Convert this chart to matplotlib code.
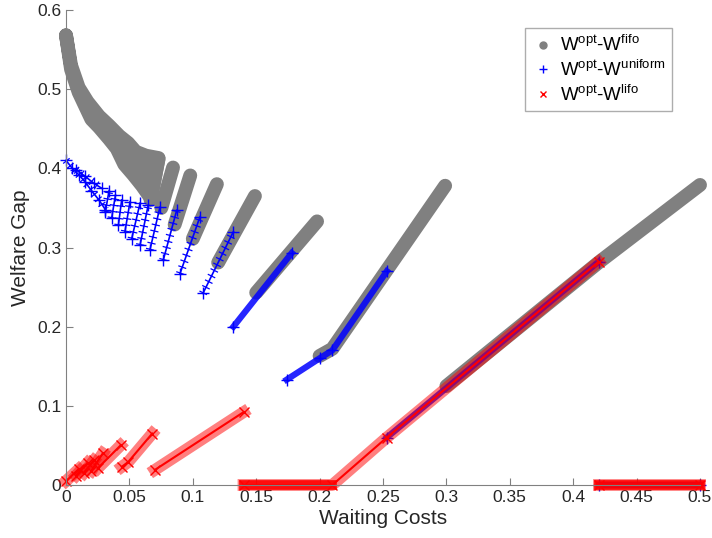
# -*- coding: utf-8 -*-
import numpy as np
import matplotlib
matplotlib.use("Agg")
from matplotlib import pyplot as plt
from matplotlib.lines import Line2D

plt.rcParams['font.family'] = ['Liberation Sans', 'DejaVu Sans']
plt.rcParams['mathtext.fontset'] = 'custom'
plt.rcParams['mathtext.rm'] = 'Liberation Sans'

# W^opt - W^fifo : bands, each a polyline of (x, y)
fifo_bands = [
    [(0.300, 0.125), (0.420, 0.281), (0.500, 0.379)],
    [(0.200, 0.163), (0.210, 0.172), (0.299, 0.378)],
    [(0.150, 0.243), (0.198, 0.333)],
    [(0.120, 0.281), (0.149, 0.365)],
    [(0.100, 0.311), (0.119, 0.380)],
    [(0.0857, 0.329), (0.098, 0.391)],
    [(0.0752, 0.350), (0.0844, 0.401)],
    [(0.0667, 0.360), (0.073, 0.412)],
]
# upper-left cluster of short fifo bands (outline)
fifo_top_x = [0.000, 0.004, 0.010, 0.017, 0.026, 0.034, 0.042, 0.049, 0.055, 0.063, 0.073]
fifo_top_y = [0.568, 0.530, 0.502, 0.484, 0.466, 0.454, 0.441, 0.432, 0.421, 0.416, 0.413]
fifo_bot_x = [0.000, 0.004, 0.010, 0.020, 0.026, 0.034, 0.040, 0.046, 0.053, 0.060, 0.067]
fifo_bot_y = [0.568, 0.525, 0.496, 0.462, 0.452, 0.437, 0.425, 0.405, 0.392, 0.378, 0.362]

# W^opt - W^uniform
uniform_bands = [
    [(0.420, 0.000), (0.500, 0.000)],
    [(0.253, 0.060), (0.420, 0.282)],
    [(0.174, 0.133), (0.200, 0.160), (0.210, 0.170), (0.253, 0.270)],
    [(0.132, 0.200), (0.178, 0.293)],
]
uniform_cols = [
    [(0.108, 0.242), (0.132, 0.320)],
    [(0.0899, 0.267), (0.1057, 0.339)],
    [(0.0767, 0.284), (0.0873, 0.347)],
    [(0.0662, 0.297), (0.0741, 0.351)],
    [(0.0584, 0.303), (0.0649, 0.354)],
    [(0.0518, 0.311), (0.0584, 0.356)],
    [(0.0465, 0.320), (0.0505, 0.358)],
    [(0.0413, 0.328), (0.0439, 0.360)],
    [(0.0360, 0.337), (0.0390, 0.366)],
    [(0.0310, 0.345), (0.0340, 0.372)],
    [(0.0000, 0.410), (0.005, 0.400), (0.010, 0.392), (0.015, 0.383),
     (0.020, 0.372), (0.026, 0.360), (0.031, 0.348)],
    [(0.008, 0.398), (0.015, 0.390), (0.022, 0.381), (0.028, 0.375)],
]

# W^opt - W^lifo
lifo_bands = [
    [(0.000, 0.005), (0.010, 0.020)],
    [(0.008, 0.012), (0.017, 0.028)],
    [(0.014, 0.015), (0.022, 0.031)],
    [(0.020, 0.018), (0.029, 0.040)],
    [(0.025, 0.021), (0.043, 0.050)],
    [(0.044, 0.023), (0.049, 0.029), (0.068, 0.065)],
    [(0.070, 0.019), (0.140, 0.092)],
    [(0.140, 0.000), (0.210, 0.000), (0.253, 0.060), (0.420, 0.282)],
    [(0.420, 0.000), (0.500, 0.000)],
]

xticks = [0, 0.05, 0.1, 0.15, 0.2, 0.25, 0.3, 0.35, 0.4, 0.45, 0.5]
xtick_labels = ['0', '0.05', '0.1', '0.15', '0.2', '0.25', '0.3', '0.35', '0.4', '0.45', '0.5']
yticks = [0, 0.1, 0.2, 0.3, 0.4, 0.5, 0.6]
ytick_labels = ['0', '0.1', '0.2', '0.3', '0.4', '0.5', '0.6']

gray = (0.5, 0.5, 0.5)
txt = (0.15, 0.15, 0.15)
GW = 10.0  # width of the fifo marker trail

fig = plt.figure(figsize=(7.12, 5.38), dpi=100)
ax = fig.add_axes([66 / 712, 53 / 538, 634 / 712, 475 / 538])

# fifo
poly_x = fifo_top_x + fifo_bot_x[::-1]
poly_y = fifo_top_y + fifo_bot_y[::-1]
ax.fill(poly_x, poly_y, color=gray, lw=0)
ax.plot(poly_x, poly_y, color=gray, lw=GW, solid_capstyle='round',
        solid_joinstyle='round', clip_on=False)
for band in fifo_bands:
    xs, ys = zip(*band)
    ax.plot(xs, ys, color=gray, lw=GW, solid_capstyle='round',
            solid_joinstyle='round', clip_on=False)

# uniform: dense bands
for band in uniform_bands:
    xs, ys = zip(*band)
    ax.plot(xs, ys, color='blue', lw=4.5, alpha=0.85, clip_on=False)
    ax.plot(xs, ys, ls='none', marker='+', ms=8, mew=1, color='blue', clip_on=False)
# uniform: sparse columns of crosses
for band in uniform_cols:
    xs, ys = zip(*band)
    ax.plot(xs, ys, color='blue', lw=6, ls=(0, (0.15, 0.6)), dash_capstyle='butt',
            clip_on=False)
    ax.plot(xs, ys, color='blue', lw=1.2, clip_on=False)
    ax.plot(xs, ys, ls='none', marker='+', ms=8, mew=1, color='blue', clip_on=False)

# lifo
for band in lifo_bands:
    xs, ys = zip(*band)
    ax.plot(xs, ys, color='red', lw=8.5, alpha=0.5, clip_on=False)
    ax.plot(xs, ys, color='red', lw=1.5, clip_on=False)
    ax.plot(xs, ys, ls='none', marker='x', ms=7, mew=1, color='red', clip_on=False)
for band in lifo_bands:
    xs, ys = zip(*band)
    if ys[0] == 0 and ys[1] == 0:
        ax.plot(xs[:2], ys[:2], color='red', lw=7, alpha=0.9, clip_on=False)

ax.set_xlim(0, 0.5)
ax.set_ylim(0, 0.6)
ax.set_xticks(xticks)
ax.set_xticklabels(xtick_labels)
ax.set_yticks(yticks)
ax.set_yticklabels(ytick_labels)
for s in ['top', 'right']:
    ax.spines[s].set_visible(False)
for s in ['left', 'bottom']:
    ax.spines[s].set_color((0.5, 0.5, 0.5))
ax.tick_params(direction='in', length=5, color=(0.5, 0.5, 0.5),
               labelsize=12.5, labelcolor=txt)
ax.set_xlabel('Waiting Costs', fontsize=15, color=txt, labelpad=3)
ax.set_ylabel('Welfare Gap', fontsize=15, color=txt, labelpad=5)

handles = [
    Line2D([], [], ls='none', marker='o', ms=5, color=gray),
    Line2D([], [], ls='none', marker='+', ms=6, color='blue'),
    Line2D([], [], ls='none', marker='x', ms=4, color='red'),
]
labels = [r'W$^{\mathrm{opt}}$-W$^{\mathrm{fifo}}$',
          r'W$^{\mathrm{opt}}$-W$^{\mathrm{uniform}}$',
          r'W$^{\mathrm{opt}}$-W$^{\mathrm{lifo}}$']
leg = ax.legend(handles, labels, loc='upper left', bbox_to_anchor=(0.724, 0.962),
                borderaxespad=0, fontsize=13.5, frameon=True, fancybox=False,
                edgecolor=(0.6, 0.6, 0.6), handlelength=1.2, handletextpad=0.3,
                borderpad=0.35, labelspacing=0.2)
leg.get_frame().set_linewidth(1)

fig.savefig('out.png', dpi=100)
